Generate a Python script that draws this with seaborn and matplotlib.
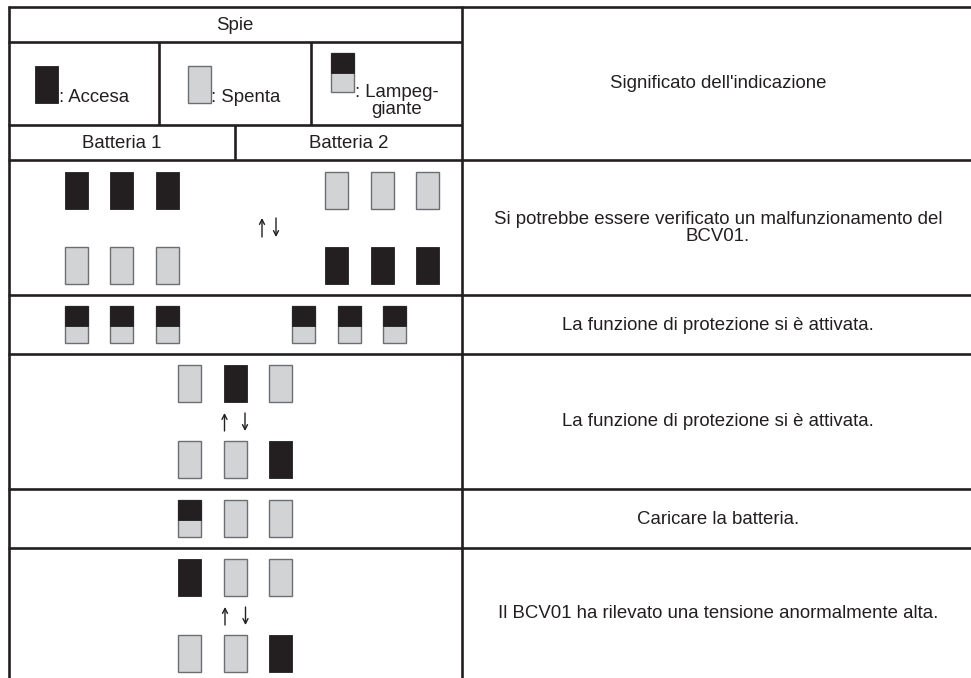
import matplotlib
matplotlib.use("Agg")
import matplotlib.pyplot as plt
import seaborn as sns

sns.set_style("white")
plt.rcParams['font.family'] = ['Liberation Sans', 'DejaVu Sans']

# Lamp states: 'on' = accesa, 'off' = spenta, 'blink' = lampeggiante
row1_top = ['on', 'on', 'on', 'off', 'off', 'off']
row1_bottom = ['off', 'off', 'off', 'on', 'on', 'on']
row2 = ['blink', 'blink', 'blink', 'blink', 'blink', 'blink']
row3_top = ['off', 'on', 'off']
row3_bottom = ['off', 'off', 'on']
row4 = ['blink', 'off', 'off']
row5_top = ['on', 'off', 'off']
row5_bottom = ['off', 'off', 'on']

header = "Spie"
legend_labels = [": Accesa", ": Spenta", ": Lampeg-\ngiante"]
battery_labels = ["Batteria 1", "Batteria 2"]
meaning_header = "Significato dell'indicazione"
meanings = [
    "Si potrebbe essere verificato un malfunzionamento del\nBCV01.",
    "La funzione di protezione si è attivata.",
    "La funzione di protezione si è attivata.",
    "Caricare la batteria.",
    "Il BCV01 ha rilevato una tensione anormalmente alta.",
]

BLACK = "#231f20"
GRAY = "#d1d3d4"
EDGE = "#6d6e71"
LW = 1.9
W, H = 23, 37

fig = plt.figure(figsize=(9.71, 6.78), dpi=100)
ax = fig.add_axes([0, 0, 1, 1])
ax.set_xlim(0, 971)
ax.set_ylim(678, 0)
ax.axis('off')


def lamp(x, y, state):
    if state == 'on':
        ax.bar(x, H, bottom=y, width=W, align='edge', color=BLACK, edgecolor=BLACK, linewidth=0.6)
    elif state == 'off':
        ax.bar(x, H, bottom=y, width=W, align='edge', color=GRAY, edgecolor=EDGE, linewidth=1.0)
    else:
        ax.bar(x, H, bottom=y, width=W, align='edge', color=GRAY, edgecolor=EDGE, linewidth=1.0)
        ax.bar(x, H * 0.55, bottom=y, width=W, align='edge', color=BLACK, edgecolor=BLACK, linewidth=0.6)


def lamp_row(xs, y, states):
    for x, s in zip(xs, states):
        lamp(x, y, s)


def arrows(x_up, x_down, y0, y1):
    style = dict(arrowstyle='->,head_width=0.18,head_length=0.35', color=BLACK, lw=1.0,
                 shrinkA=0, shrinkB=0)
    ax.annotate("", xy=(x_up, y0), xytext=(x_up, y1), arrowprops=style)
    ax.annotate("", xy=(x_down, y1), xytext=(x_down, y0), arrowprops=style)


# grid lines
def hline(y, x0, x1):
    ax.plot([x0, x1], [y, y], color=BLACK, lw=LW, solid_capstyle='butt')


def vline(x, y0, y1):
    ax.plot([x, x], [y0, y1], color=BLACK, lw=LW, solid_capstyle='butt')


for y in [7, 160, 295, 354, 489, 548]:
    hline(y, 8, 971)
for y in [42, 125]:
    hline(y, 8, 462)
vline(9, 6, 678)
vline(462, 6, 678)
vline(159, 42, 125)
vline(311, 42, 125)
vline(235, 125, 160)

fs = 13.4
# header
ax.text(235, 25, header, ha='center', va='center', fontsize=fs, color=BLACK)
ax.text(718, 84, meaning_header, ha='center', va='center', fontsize=fs, color=BLACK)

# legend row
lamp(35, 66, 'on')
ax.text(59, 97, legend_labels[0], ha='left', va='center', fontsize=fs, color=BLACK)
lamp(188, 66, 'off')
ax.text(211, 97, legend_labels[1], ha='left', va='center', fontsize=fs, color=BLACK)
ax.bar(331, 39, bottom=53, width=W, align='edge', color=GRAY, edgecolor=EDGE, linewidth=1.0)
ax.bar(331, 20, bottom=53, width=W, align='edge', color=BLACK, edgecolor=BLACK, linewidth=0.6)
ax.text(397, 101, legend_labels[2], ha='center', va='center', fontsize=fs, color=BLACK,
        linespacing=1.0)

ax.text(122, 143, battery_labels[0], ha='center', va='center', fontsize=fs, color=BLACK)
ax.text(349, 143, battery_labels[1], ha='center', va='center', fontsize=fs, color=BLACK)

# rows
xs_a = [65, 110, 156, 325, 371, 416]
xs_b = [65, 110, 156, 292, 338, 383]
xs_c = [178, 224, 269]

lamp_row(xs_a, 172, row1_top)
lamp_row(xs_a, 247, row1_bottom)
arrows(262, 276, 218, 237)

lamp_row(xs_b, 306, row2)

lamp_row(xs_c, 365, row3_top)
lamp_row(xs_c, 441, row3_bottom)
arrows(224.5, 245, 413, 431)

lamp_row(xs_c, 500, row4)

lamp_row(xs_c, 559, row5_top)
lamp_row(xs_c, 635, row5_bottom)
arrows(225, 245.5, 607, 625)

# meanings
row_centers = [228, 325, 422, 519, 614]
for yc, txt in zip(row_centers, meanings):
    ax.text(718, yc, txt, ha='center', va='center', fontsize=fs, color=BLACK, linespacing=1.0)

fig.savefig("out.png", dpi=100, facecolor='white')
